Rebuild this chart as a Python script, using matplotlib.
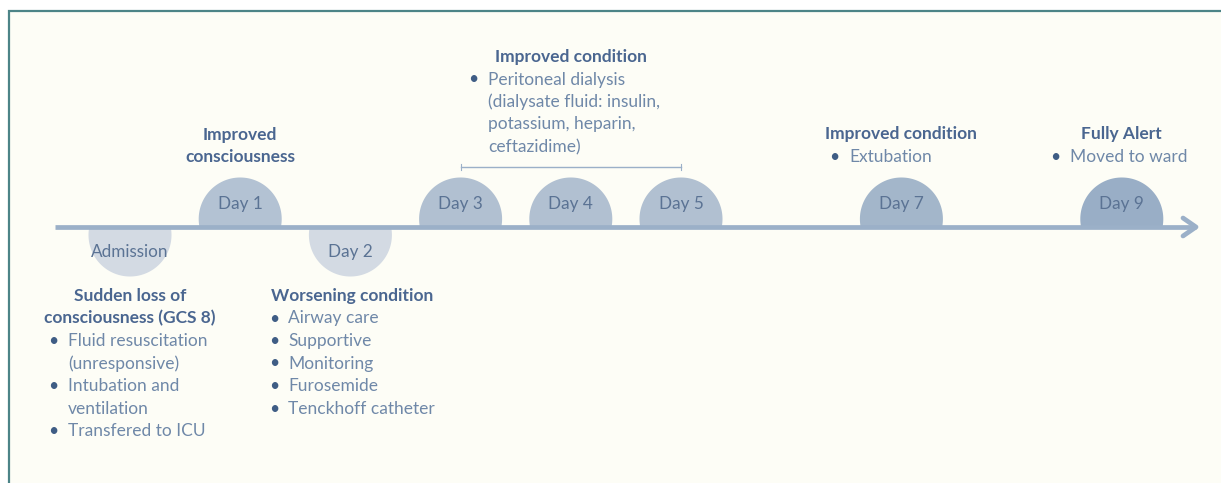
import numpy as np
import matplotlib.pyplot as plt
from matplotlib.patches import Polygon, Rectangle

plt.rcParams['font.family'] = ['Lato', 'DejaVu Sans']

# timeline stops
days = [0, 1, 2, 3, 4, 5, 7, 9]
day_labels = ["Admission", "Day 1", "Day 2", "Day 3", "Day 4", "Day 5", "Day 7", "Day 9"]
sides = [-1, 1, -1, 1, 1, 1, 1, 1]          # 1 = above line, -1 = below
fills = ["#d3dae3", "#b3c2d3", "#d3dae3", "#b1c0d1", "#b1c0d1", "#b1c0d1", "#a3b6ca", "#99aec6"]

# notes
adm_head = ["Sudden loss of", "consciousness (GCS 8)"]
adm_items = [["Fluid resuscitation", "(unresponsive)"], ["Intubation and", "ventilation"], ["Transfered to ICU"]]
d1_head = ["Improved", "consciousness"]
d2_head = ["Worsening condition"]
d2_items = [["Airway care"], ["Supportive"], ["Monitoring"], ["Furosemide"], ["Tenckhoff catheter"]]
d35_head = ["Improved condition"]
d35_items = [["Peritoneal dialysis", "(dialysate fluid: insulin,", "potassium, heparin,", "ceftazidime)"]]
d7_head = ["Improved condition"]
d7_items = [["Extubation"]]
d9_head = ["Fully Alert"]
d9_items = [["Moved to ward"]]

W, H = 1221, 483
px = 110.2          # pixels per day
x0 = 130            # pixel position of admission
line_y = 227
r = 41.5
step = 22.5
fs = 12.5

head_c = "#4a6690"
body_c = "#6f88a8"
bullet_c = "#3f5d85"
day_c = "#5b7394"

fig = plt.figure(figsize=(W / 100, H / 100), dpi=100, facecolor="white")
ax = fig.add_axes([0, 0, 1, 1])
ax.set_xlim(-x0 / px, (W - x0) / px)
ax.set_ylim(H, 0)
ax.axis("off")


def d(p):
    # pixel x -> day units
    return (p - x0) / px


# panel with border
ax.add_patch(Rectangle((d(9), 11), 20, 600, facecolor="#fdfdf6", edgecolor="#4c8487", lw=1.6, zorder=0))

# day bubbles: circle cut off at the timeline
t = np.linspace(0, 2 * np.pi, 400)
for day, lab, s, fc in zip(days, day_labels, sides, fills):
    cy = line_y - s * 8
    xs = day + r * np.cos(t) / px
    ys = cy + r * np.sin(t)
    if s == 1:
        ys = np.minimum(ys, line_y)
    else:
        ys = np.maximum(ys, line_y)
    ax.add_patch(Polygon(np.column_stack([xs, ys]), closed=True, facecolor=fc, edgecolor="none", zorder=2))
    ty = 204 if s == 1 else 252
    ax.text(day, ty, lab, ha="center", va="center", fontsize=12.3, color=day_c, zorder=4)

# timeline + arrow
tip = d(1196)
ax.plot([d(55), tip], [line_y, line_y], color="#9bb0c8", lw=3.4, solid_capstyle="butt", zorder=3)
ax.plot([tip - 13 / px, tip, tip - 13 / px], [line_y - 9, line_y, line_y + 9],
        color="#9bb0c8", lw=3.4, solid_capstyle="round", solid_joinstyle="round", zorder=3)

# bracket over days 3-5
ax.plot([3, 5], [167, 167], color="#9bb0c8", lw=1.0, zorder=3)
for e in (3, 5):
    ax.plot([e, e], [164, 170], color="#9bb0c8", lw=0.8, zorder=3)


def block(head, hx, ha, y, items=None, bx=None, tx=None):
    for line in head:
        ax.text(hx, y, line, ha=ha, va="center", fontsize=fs, fontweight="bold", color=head_c)
        y += step
    for item in items or []:
        ax.text(bx, y, "\u2022", ha="center", va="center", fontsize=fs, color=bullet_c)
        for line in item:
            ax.text(tx, y, line, ha="left", va="center", fontsize=fs, color=body_c)
            y += step


block(adm_head, 0, "center", 296, adm_items, d(53), d(68))
block(d1_head, 1, "center", 135)
block(d2_head, d(271), "left", 296, d2_items, d(274), d(288))
block(d35_head, 4, "center", 57, d35_items, d(473), d(488))
block(d7_head, 7, "center", 134, d7_items, d(834), d(849))
block(d9_head, 9, "center", 134, d9_items, d(1055), d(1070))

fig.savefig("out.png", dpi=100, facecolor="white")
